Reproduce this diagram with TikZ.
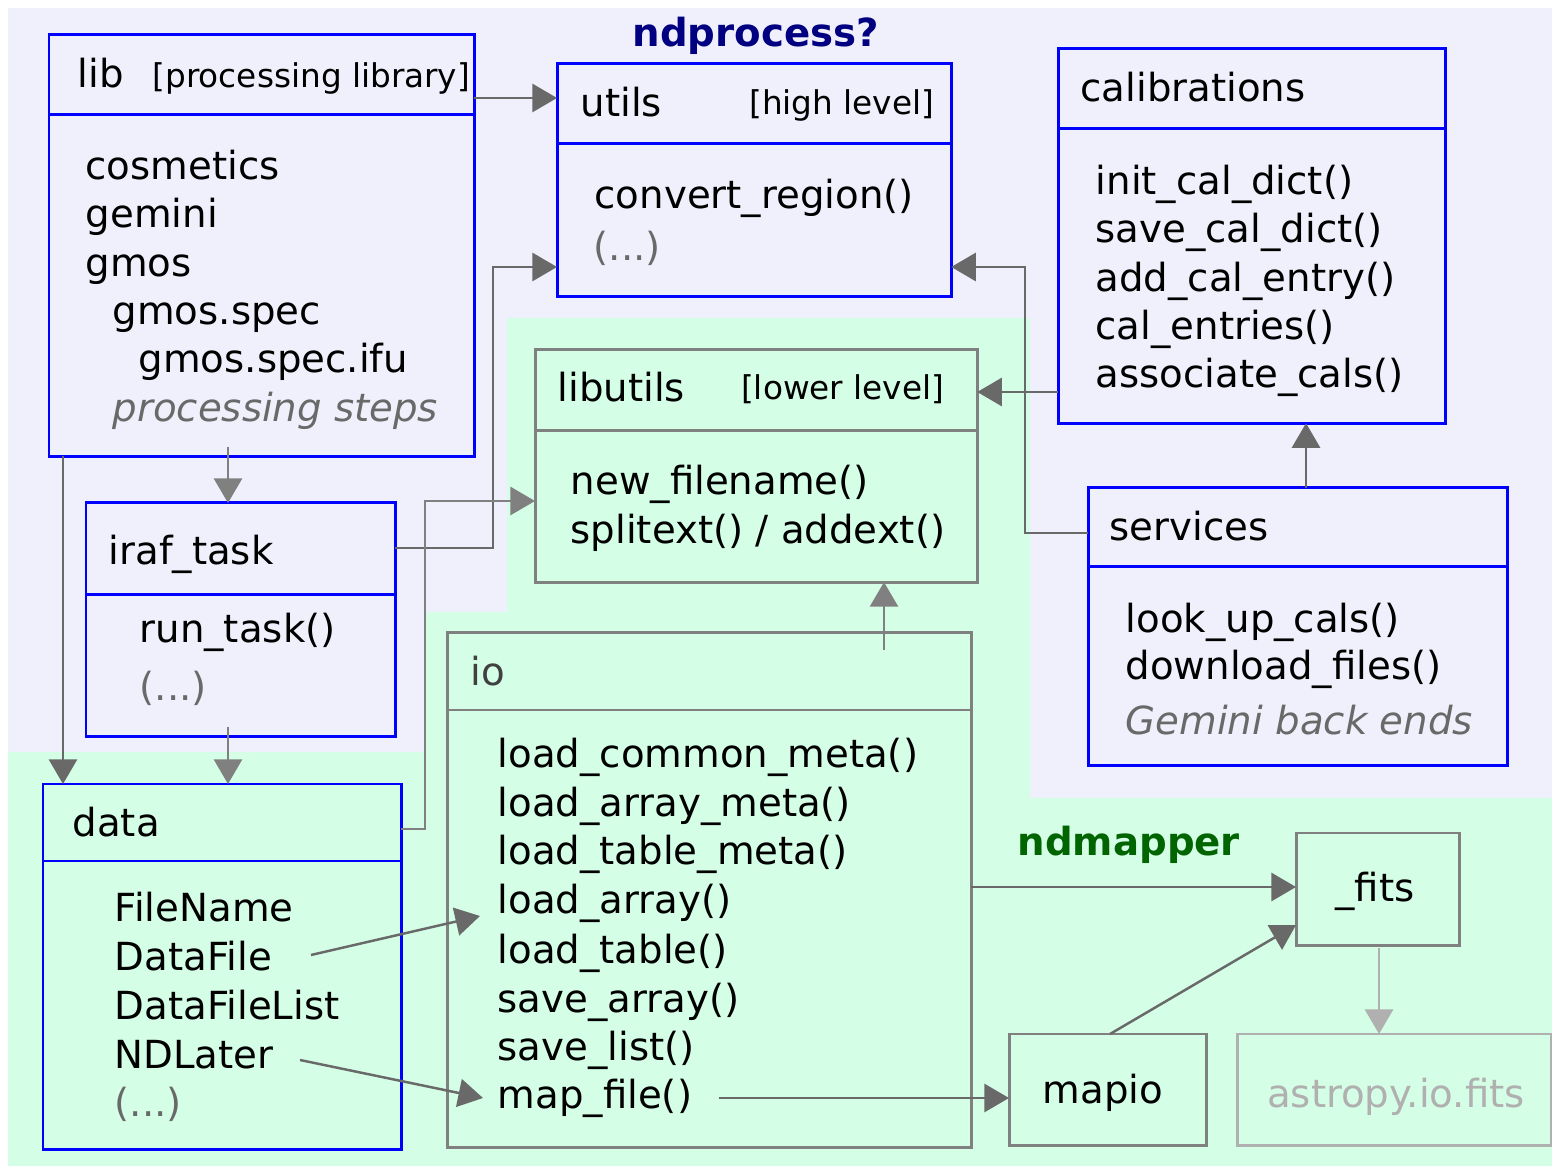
\documentclass[tikz,border=0pt]{standalone}
\usepackage{fontspec}
\setmainfont{DejaVu Sans}
\usetikzlibrary{arrows.meta}

\definecolor{lav}{HTML}{F0F0FC}
\definecolor{mint}{HTML}{D4FEE6}
\definecolor{boxblue}{HTML}{0000FF}
\definecolor{boxgray}{HTML}{808080}
\definecolor{linkgray}{HTML}{696969}
\definecolor{lightlink}{HTML}{808080}
\definecolor{faint}{HTML}{B0B0B0}
\definecolor{navytitle}{HTML}{000080}
\definecolor{greentitle}{HTML}{006400}
\definecolor{iogray}{HTML}{404040}
\definecolor{notegray}{HTML}{696969}

\tikzset{
  pkg/.style={draw=boxblue, line width=0.85pt, anchor=north west, inner sep=0pt, outer sep=0pt},
  ext/.style={draw=boxgray, line width=0.85pt, anchor=north west, inner sep=0pt, outer sep=0pt},
  extfaint/.style={ext, draw=faint},
  pkgsep/.style={draw=boxblue, line width=0.85pt},
  extsep/.style={draw=boxgray, line width=0.85pt},
  ln/.style={anchor=base west, inner sep=0pt, font=\fontsize{11}{13.8}\selectfont},
  lnr/.style={ln, anchor=base east},
  lnc/.style={ln, anchor=base},
  tag/.style={font=\fontsize{9.3}{11}\selectfont},
  dim/.style={text=notegray},
  slanted/.style={font=\fontsize{11}{13.8}\selectfont\itshape},
  grouptitle/.style={ln, font=\fontsize{11}{13.8}\selectfont\bfseries},
  link/.style={draw=linkgray, line width=0.7pt, -{Triangle[length=7pt,width=8pt]}},
  softlink/.style={link, draw=lightlink},
  faintlink/.style={link, draw=faint},
}

\begin{document}
\begin{tikzpicture}[x=0.01cm, y=-0.01cm]
\useasboundingbox (0,0) rectangle (1552,1168);

% package groups
\fill[lav] (8,8) rectangle (1552,1166);
\fill[mint] (8,752) -- (425,752) -- (425,612) -- (507,612) -- (507,318)
  -- (1030,318) -- (1030,798) -- (1552,798) -- (1552,1166) -- (8,1166) -- cycle;

\node[grouptitle, text=navytitle] (ndprocess) at (632,47) {ndprocess?};
\node[grouptitle, text=greentitle] (ndmapper) at (1017,856) {ndmapper};

% module boxes
\node[pkg, minimum width=4.25cm, minimum height=4.21cm] (lib) at (49,35) {};
\node[pkg, minimum width=3.94cm, minimum height=2.32cm] (utils) at (557,64) {};
\node[pkg, minimum width=3.87cm, minimum height=3.74cm] (calib) at (1058,49) {};
\node[ext, minimum width=4.42cm, minimum height=2.32cm] (libutils) at (535,350) {};
\node[pkg, minimum width=3.09cm, minimum height=2.33cm] (iraf) at (86,503) {};
\node[pkg, minimum width=3.58cm, minimum height=3.65cm] (data) at (43,784) {};
\node[ext, minimum width=5.24cm, minimum height=5.14cm] (io) at (447,633) {};
\node[pkg, minimum width=4.19cm, minimum height=2.77cm] (services) at (1088,488) {};
\node[ext, minimum width=1.63cm, minimum height=1.12cm] (fits) at (1296,833) {};
\node[ext, minimum width=1.97cm, minimum height=1.11cm] (mapio) at (1009,1034) {};
\node[extfaint, minimum width=3.14cm, minimum height=1.11cm] (astropy) at (1237,1034) {};

% header rules
\draw[pkgsep] (lib.west |- 0,115) -- (lib.east |- 0,115);
\draw[pkgsep] (utils.west |- 0,144) -- (utils.east |- 0,144);
\draw[pkgsep] (calib.west |- 0,129) -- (calib.east |- 0,129);
\draw[extsep] (libutils.west |- 0,431) -- (libutils.east |- 0,431);
\draw[pkgsep] (iraf.west |- 0,595) -- (iraf.east |- 0,595);
\draw[pkgsep] (data.west |- 0,861) -- (data.east |- 0,861);
\draw[extsep] (io.west |- 0,710) -- (io.east |- 0,710);
\draw[pkgsep] (services.west |- 0,567) -- (services.east |- 0,567);

% lib
\node[ln] (libT) at (77,88) {lib};
\node[ln, tag] (libTag) at (152,88) {[processing library]};
\node[ln] (lib1) at (85,180) {cosmetics};
\node[ln] (lib2) at (85,228) {gemini};
\node[ln] (lib3) at (85,277) {gmos};
\node[ln] (lib4) at (112,325) {gmos.spec};
\node[ln] (lib5) at (138,373) {gmos.spec.ifu};
\node[ln, slanted, dim] (lib6) at (112,422) {processing steps};

% utils
\node[ln] (utilsT) at (580,117) {utils};
\node[lnr, tag] (utilsTag) at (935,115) {[high level]};
\node[ln] (utils1) at (594,209) {convert\_region()};
\node[ln, dim] (utils2) at (593,261) {(...)};

% calibrations
\node[ln] (calibT) at (1080,102) {calibrations};
\node[ln] (calib1) at (1095,195) {init\_cal\_dict()};
\node[ln] (calib2) at (1095,243) {save\_cal\_dict()};
\node[ln] (calib3) at (1095,292) {add\_cal\_entry()};
\node[ln] (calib4) at (1095,340) {cal\_entries()};
\node[ln] (calib5) at (1095,388) {associate\_cals()};

% libutils
\node[ln] (libutilsT) at (557,402) {libutils};
\node[lnr, tag] (libutilsTag) at (945,400) {[lower level]};
\node[ln] (libutils1) at (570,495) {new\_filename()};
\node[ln] (libutils2) at (570,544) {splitext() / addext()};

% iraf_task
\node[ln] (irafT) at (108,565) {iraf\_task};
\node[ln] (iraf1) at (139,643) {run\_task()};
\node[ln, dim] (iraf2) at (139,701) {(...)};

% data
\node[ln] (dataT) at (72,837) {data};
\node[ln] (data1) at (114,922) {FileName};
\node[ln] (data2) at (114,970) {DataFile};
\node[ln] (data3) at (114,1019) {DataFileList};
\node[ln] (data4) at (114,1068) {NDLater};
\node[ln, dim] (data5) at (114,1116) {(...)};

% io
\node[ln, text=iogray] (ioT) at (470,686) {io};
\node[ln] (io1) at (497,768) {load\_common\_meta()};
\node[ln] (io2) at (497,817) {load\_array\_meta()};
\node[ln] (io3) at (497,865) {load\_table\_meta()};
\node[ln] (io4) at (497,914) {load\_array()};
\node[ln] (io5) at (497,963) {load\_table()};
\node[ln] (io6) at (497,1012) {save\_array()};
\node[ln] (io7) at (497,1060) {save\_list()};
\node[ln] (io8) at (497,1108) {map\_file()};

% services
\node[ln] (servicesT) at (1109,541) {services};
\node[ln] (services1) at (1125,633) {look\_up\_cals()};
\node[ln] (services2) at (1125,680) {download\_files()};
\node[ln, slanted, dim] (services3) at (1125,735) {Gemini back ends};

% ndmapper modules
\node[lnc] (fitsT) at (1375,902) {\_fits};
\node[lnc] (mapioT) at (1103,1103) {mapio};
\node[lnc, text=faint] (astropyT) at (1396,1107) {astropy.io.fits};

% connector end points that sit inside boxes
\coordinate (libdrop) at (228,447);
\coordinate (iraflow) at (228,727);
\coordinate (iotop) at (884,650);
\coordinate (dfileout) at (311,955);
\coordinate (loadin) at (480,916);
\coordinate (ndlout) at (300,1060);
\coordinate (mapin) at (483,1098);
\coordinate (mapout) at (719,1098);
\coordinate (fitslow) at (1379,948);

% dependencies
\draw[link] (lib.east |- 0,98) -- (utils.west |- 0,98);
\draw[link] (lib.south -| 63,0) -- (data.north -| 63,0);
\draw[softlink] (libdrop) -- (iraf.north -| libdrop);
\draw[softlink] (iraflow) -- (data.north -| iraflow);
\draw[link] (iraf.east |- 0,548) -| (493,267) -- (utils.west |- 0,267);
\draw[softlink] (data.east |- 0,829) -| (425,501) -- (libutils.west |- 0,501);
\draw[softlink] (iotop) -- (libutils.south -| iotop);
\draw[link] (calib.west |- 0,392) -- (libutils.east |- 0,392);
\draw[link] (services.west |- 0,533) -| (1025,267) -- (utils.east |- 0,267);
\draw[link] (services.north -| 1306,0) -- (calib.south -| 1306,0);
\draw[link] (dfileout) -- (loadin);
\draw[link] (ndlout) -- (mapin);
\draw[link] (mapout) -- (mapio.west |- mapout);
\draw[link] (io.east |- 0,887) -- (fits.west |- 0,887);
\draw[link] (mapio.north -| 1110,0) -- (fits.west |- 0,925);
\draw[faintlink] (fitslow) -- (astropy.north -| fitslow);
\end{tikzpicture}
\end{document}
